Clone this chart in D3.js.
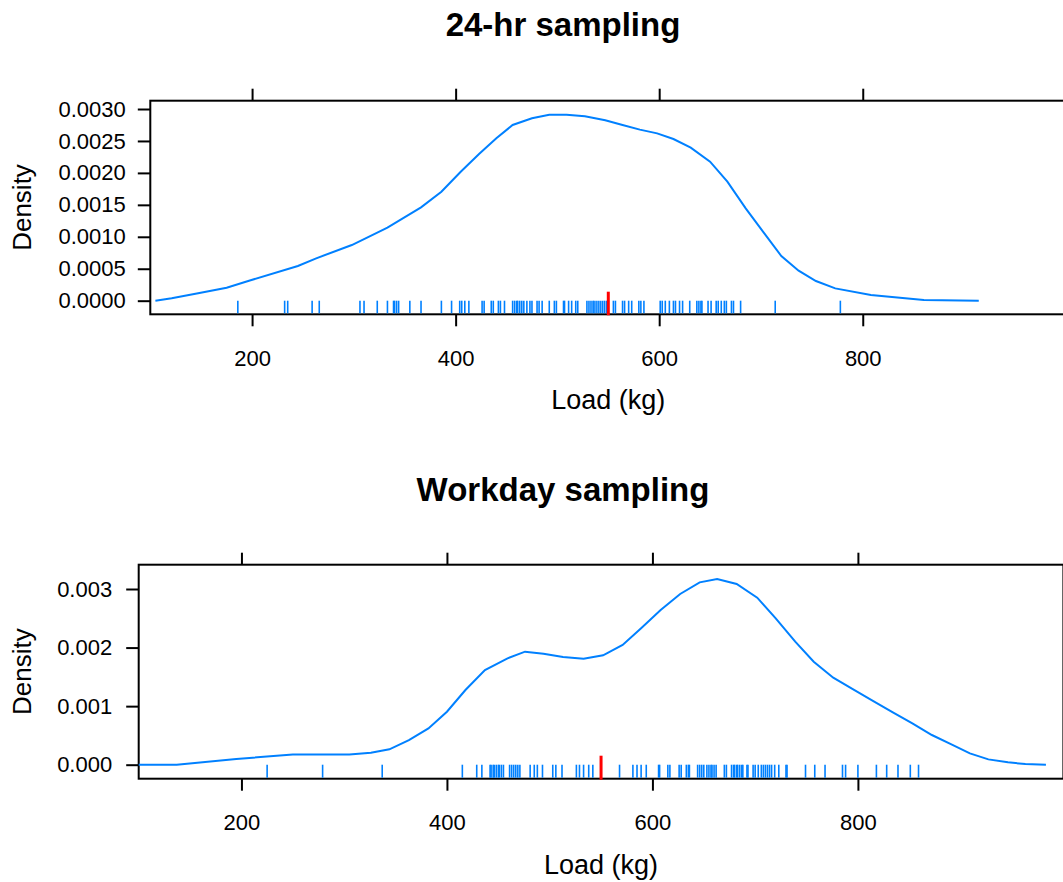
<!DOCTYPE html>
<html>
<head>
<meta charset="utf-8">
<script src="https://cdn.jsdelivr.net/npm/d3@7"></script>
<style>
  body { margin: 0; background: #fff; }
  text { font-family: "Liberation Sans", Arial, Helvetica, sans-serif; fill: #000; }
</style>
</head>
<body>
<svg id="chart" width="1063" height="882"></svg>
<script>
'use strict';

// observed loads (kg), one rug tick each
var loads24 = [186, 232, 235, 259, 266, 306, 310, 323, 333, 339, 340, 342, 344, 355, 366, 386, 396,
  404, 406, 409, 413, 426, 428, 435, 437, 442, 444, 448, 456, 458, 460, 461, 463, 465, 467, 470, 473,
  475, 480, 482, 485, 492, 497, 499, 506, 507, 511, 514, 518, 520, 529, 531, 533, 535, 536, 538, 540,
  542, 544, 546, 548, 555, 557, 564, 566, 570, 573, 580, 582, 585, 601, 603, 606, 610, 614, 616, 620,
  623, 630, 637, 639, 641, 642, 648, 651, 656, 658, 661, 664, 666, 671, 673, 680, 714, 778];

var loadsWork = [225, 279, 337, 415, 429, 434, 442, 443, 445, 446, 448, 450, 451, 453, 455, 461, 463,
  465, 467, 469, 471, 481, 485, 488, 493, 503, 506, 512, 526, 529, 533, 538, 542, 568, 581, 585, 589,
  594, 606, 607, 615, 617, 626, 628, 633, 635, 636, 644, 646, 648, 650, 653, 655, 657, 658, 660, 662,
  670, 672, 677, 679, 680, 682, 683, 685, 687, 688, 692, 693, 698, 700, 703, 706, 708, 710, 712, 714,
  716, 719, 723, 730, 731, 749, 758, 768, 785, 788, 800, 818, 828, 839, 851, 859];

// kernel density estimates [load, density]
var density24 = [[105, 0], [121, 0.000037], [147, 0.000115], [175, 0.000203], [197, 0.000313],
  [245, 0.000543], [263, 0.000663], [298, 0.000871], [333, 0.001143], [366, 0.001461],
  [386, 0.001706], [405, 0.002019], [423, 0.002296], [440, 0.002541], [456, 0.00275],
  [475, 0.002854], [492, 0.002911], [509, 0.002911], [527, 0.002885], [547, 0.002823],
  [564, 0.00275], [581, 0.002677], [598, 0.002619], [614, 0.00253], [631, 0.002395],
  [650, 0.002176], [667, 0.001863], [685, 0.001445], [702, 0.00108], [720, 0.000699],
  [737, 0.00047], [754, 0.000308], [773, 0.000193], [808, 0.000089], [860, 0.00001], [914, 0]];

var densityWork = [[100, 0], [137, 0], [195, 0.000097], [250, 0.000176], [305, 0.000176],
  [326, 0.000205], [344, 0.000262], [363, 0.000421], [382, 0.00062], [400, 0.000905],
  [418, 0.001275], [437, 0.001617], [459, 0.001816], [476, 0.00193], [494, 0.001896],
  [513, 0.001839], [533, 0.00181], [552, 0.001867], [571, 0.002044], [589, 0.002328],
  [608, 0.002641], [627, 0.002915], [646, 0.003114], [663, 0.003171], [682, 0.003085],
  [702, 0.002852], [720, 0.002499], [739, 0.002101], [757, 0.001759], [776, 0.001486],
  [795, 0.001292], [815, 0.001087], [834, 0.000894], [853, 0.000706], [872, 0.000507],
  [891, 0.000347], [909, 0.000194], [927, 0.000091], [946, 0.00004], [963, 0.000011], [983, 0]];

var refLoad = 550;

var xTicks = [200, 400, 600, 800];
var yTicks24 = [0, 0.0005, 0.001, 0.0015, 0.002, 0.0025, 0.003];
var yTicksWork = [0, 0.001, 0.002, 0.003];

var xDomain = [100, 1000];
var blue = "#0080ff";

var svg = d3.select("#chart");

var panels = [
  { title: "24-hr sampling", loads: loads24, density: density24, yTicks: yTicks24,
    yFormat: d3.format(".4f"), yDomain: [-0.000213, 0.00313], yPad: 12,
    left: 150.3, right: 1066.3, top: 100.7, bottom: 314.3, titleY: 36 },
  { title: "Workday sampling", loads: loadsWork, density: densityWork, yTicks: yTicksWork,
    yFormat: d3.format(".3f"), yDomain: [-0.000239, 0.003415], yPad: 14,
    left: 138.7, right: 1063.4, top: 564.7, bottom: 778.7, titleY: 501 }
];

function drawPanel(p) {
  var x = d3.scaleLinear().domain(xDomain).range([p.left, p.right]);
  var y = d3.scaleLinear().domain(p.yDomain).range([p.bottom, p.top]);
  var g = svg.append("g");

  g.append("text")
    .attr("x", 563).attr("y", p.titleY)
    .attr("text-anchor", "middle")
    .style("font-size", "33px").style("font-weight", "bold")
    .text(p.title);

  var xAxis = g.append("g")
    .attr("transform", "translate(0," + p.bottom + ")")
    .call(d3.axisBottom(x).tickValues(xTicks).tickSize(12).tickSizeOuter(0).tickPadding(24));
  var xTop = g.append("g")
    .attr("transform", "translate(0," + p.top + ")")
    .call(d3.axisTop(x).tickValues(xTicks).tickSize(12).tickSizeOuter(0).tickFormat(""));
  var yAxis = g.append("g")
    .attr("transform", "translate(" + p.left + ",0)")
    .call(d3.axisLeft(y).tickValues(p.yTicks).tickSize(12.5).tickSizeOuter(0)
      .tickPadding(p.yPad).tickFormat(p.yFormat));

  [xAxis, xTop, yAxis].forEach(function(a) {
    a.select(".domain").remove();
    a.selectAll("line").attr("stroke", "#000").attr("stroke-width", 2);
    a.selectAll("text").style("font-size", "22px").style("font-family", null);
  });

  g.append("rect")
    .attr("x", p.left).attr("y", p.top)
    .attr("width", p.right - p.left).attr("height", p.bottom - p.top)
    .attr("fill", "none").attr("stroke", "#000").attr("stroke-width", 2);

  var line = d3.line()
    .x(function(d) { return x(d[0]); })
    .y(function(d) { return y(d[1]); });

  g.append("path")
    .datum(p.density)
    .attr("d", line)
    .attr("fill", "none")
    .attr("stroke", blue)
    .attr("stroke-width", 2);

  g.selectAll(".rug")
    .data(p.loads)
    .enter().append("line")
      .attr("class", "rug")
      .attr("x1", function(d) { return x(d); })
      .attr("x2", function(d) { return x(d); })
      .attr("y1", y(0))
      .attr("y2", p.bottom - 1)
      .attr("stroke", blue)
      .attr("stroke-width", 1.6);

  g.append("line")
    .attr("x1", x(refLoad)).attr("x2", x(refLoad))
    .attr("y1", y(0) - 9).attr("y2", p.bottom + 1)
    .attr("stroke", "#ff0000")
    .attr("stroke-width", 3);

  g.append("text")
    .attr("x", (p.left + p.right) / 2).attr("y", p.bottom + 95)
    .attr("text-anchor", "middle")
    .style("font-size", "27px")
    .text("Load (kg)");

  g.append("text")
    .attr("transform", "translate(31," + ((p.top + p.bottom) / 2) + ") rotate(-90)")
    .attr("text-anchor", "middle")
    .style("font-size", "26px")
    .text("Density");
}

panels.forEach(drawPanel);
</script>
</body>
</html>
